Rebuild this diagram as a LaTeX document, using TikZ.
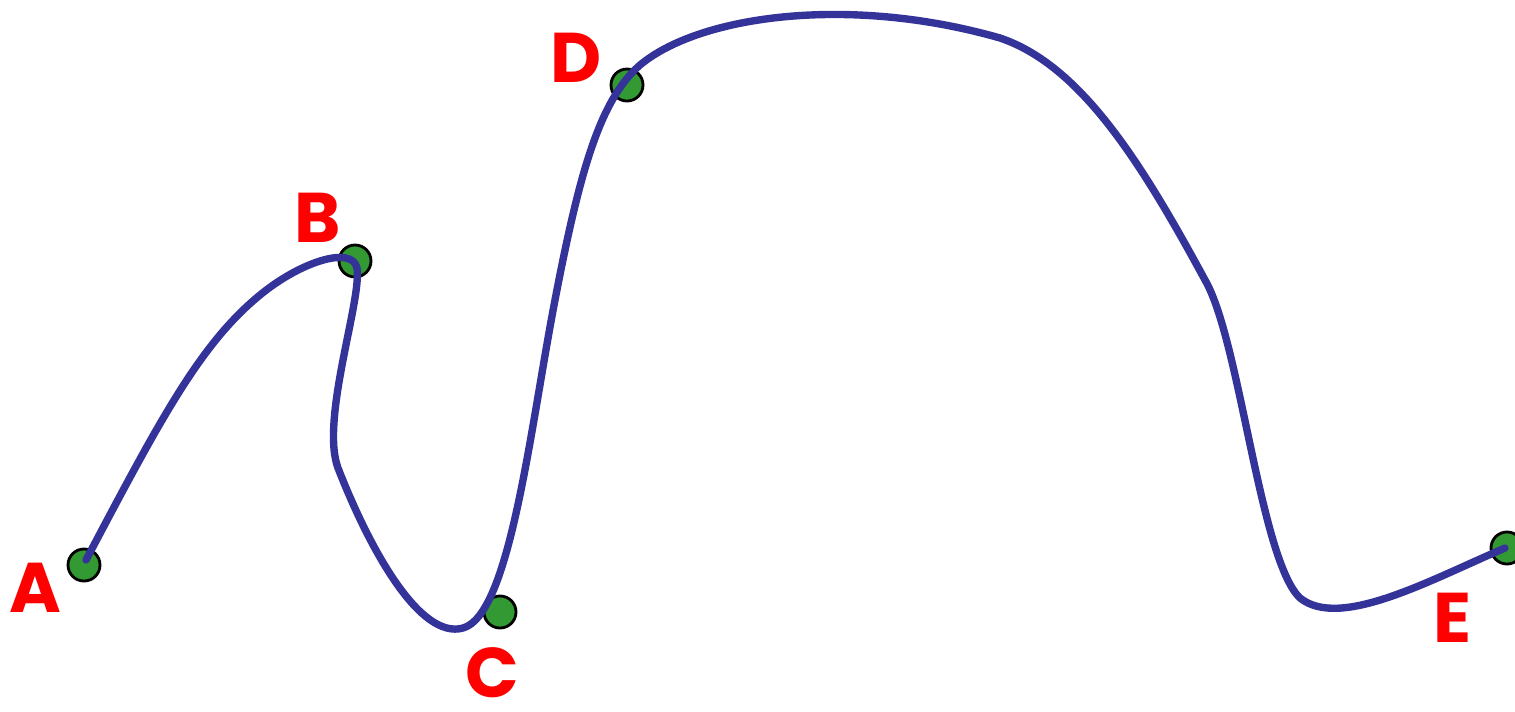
\documentclass[tikz,border=0pt]{standalone}
\usepackage{fontspec}
\newfontfamily\lab{Poppins}
\definecolor{curveblue}{RGB}{51,51,153}
\definecolor{dotgreen}{RGB}{51,153,51}
\tikzset{
  pt/.style={circle, fill=dotgreen, draw=black, line width=0.8pt, minimum size=0.32cm, inner sep=0pt},
  lbl/.style={text=red, font=\lab\bfseries\fontsize{20}{24}\selectfont, inner sep=0pt},
  curvestyle/.style={draw=curveblue, line width=2.1pt, line cap=round, line join=round}
}
\begin{document}
\begin{tikzpicture}[x=0.01cm, y=-0.01cm]
\useasboundingbox (0,0) rectangle (1515,711);
\node[pt] (a) at (84,565) {};
\node[pt] (b) at (355,261) {};
\node[pt] (c) at (500,612) {};
\node[pt] (d) at (627,85) {};
\node[pt] (e) at (1507,548) {};
\coordinate (ca) at (86,560);
\coordinate (ce) at (1505,548);
\draw[curvestyle] (ca) .. controls (160,420) and (200,344) .. (260,295)
  .. controls (300,262) and (352,245) .. (357,268)
  .. controls (362,300) and (320,420) .. (338,468)
  .. controls (370,550) and (420,640) .. (463,628)
  .. controls (510,615) and (530,430) .. (555,300)
  .. controls (580,170) and (600,100) .. (640,65)
  .. controls (700,15) and (850,-5) .. (1000,38)
  .. controls (1080,65) and (1140,160) .. (1205,280)
  .. controls (1240,340) and (1260,560) .. (1300,598)
  .. controls (1340,630) and (1430,580) .. (ce);
\node[lbl] (la) at (35,588) {A};
\node[lbl] (lb) at (318,218) {B};
\node[lbl] (lc) at (492,673) {C};
\node[lbl] (ld) at (576,58) {D};
\node[lbl] (le) at (1453,618) {E};
\end{tikzpicture}
\end{document}
